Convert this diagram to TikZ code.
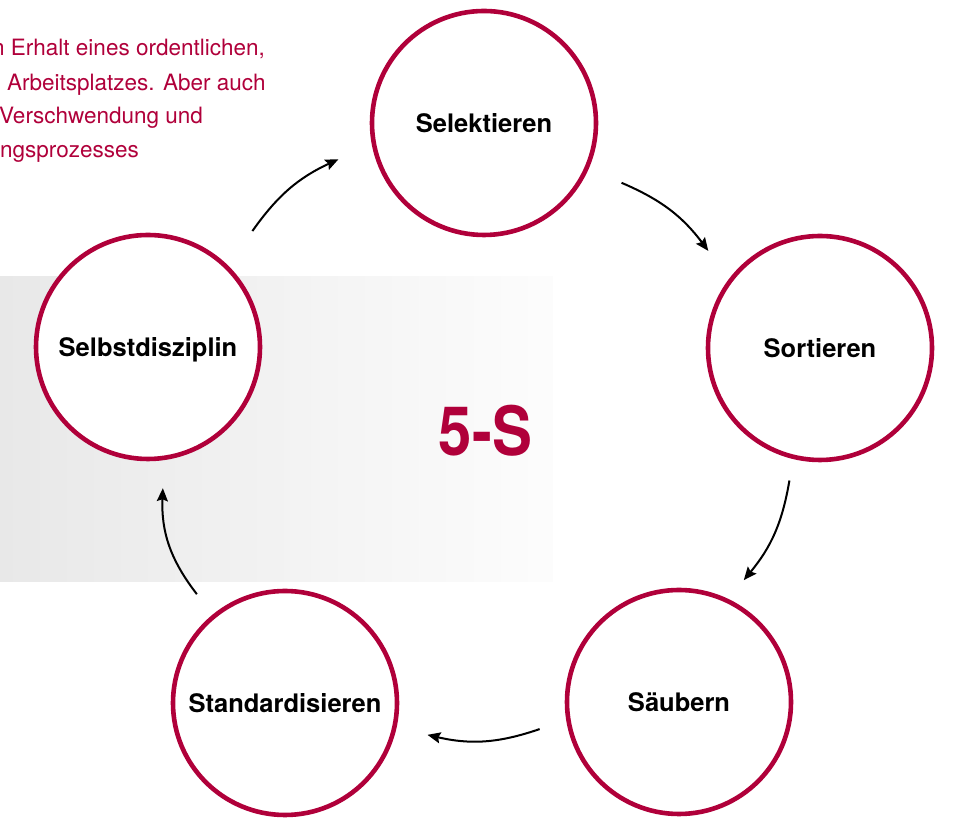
\documentclass[tikz,border=0pt]{standalone}
\usepackage{fontspec}
\setmainfont{TeX Gyre Heros}
\usetikzlibrary{calc,arrows.meta}
\definecolor{crimson}{RGB}{176,0,58}

\begin{document}
\begin{tikzpicture}[x=1pt, y=1pt,
    sphase/.style={circle, draw=crimson, line width=4.6pt, fill=white,
      minimum size=224pt, inner sep=0pt,
      font=\fontsize{25.5}{30}\selectfont\bfseries,
      text height=18.4pt, text depth=0pt},
    flow/.style={-{Stealth[length=13pt,width=11pt,inset=2pt]}, line width=2pt},
    intro/.style={anchor=base west, inner sep=0pt, text=crimson,
      font=\fontsize{22.5}{34}\selectfont}]
  \useasboundingbox (0,0) rectangle (953,818);
  \clip (0,0) rectangle (953,818);
  \shade[left color=black!9, right color=black!1] (0,236) rectangle (553,541);

  \node[intro] (t1) at (-8,762) {n Erhalt eines ordentlichen,};
  \node[intro] (t2) at (7,727) {Arbeitsplatzes. Aber auch};
  \node[intro] (t3) at (-1,694) {Verschwendung und};
  \node[intro] (t4) at (0,660) {ngsprozesses};

  \node[sphase] (sel) at (484,695) {Selektieren};
  \node[sphase] (sor) at (820,470) {Sortieren};
  \node[sphase] (sau) at (679,116) {Säubern};
  \node[sphase] (sta) at (285,115) {Standardisieren};
  \node[sphase] (sbd) at (148,471) {Selbstdisziplin};

  \node[text=crimson, font=\fontsize{68}{70}\selectfont\bfseries] (fives)
    at (485.5,387) {\scalebox{0.88}[1]{5-S}};

  \draw[flow] ($(sbd)+(48:156)$) to[bend left=15] ($(sel)+(194:150)$);
  \draw[flow] ($(sel)+(-23.5:150)$) to[bend left=15] ($(sor)+(139:148)$);
  \draw[flow] ($(sor)+(257:136)$) to[bend left=15] ($(sau)+(62:138)$);
  \draw[flow] ($(sau)+(191:142)$) to[bend left=16] ($(sta)+(-12.6:146)$);
  \draw[flow] ($(sta)+(129:140)$) to[bend left=20] ($(sbd)+(-84:142)$);
\end{tikzpicture}
\end{document}
